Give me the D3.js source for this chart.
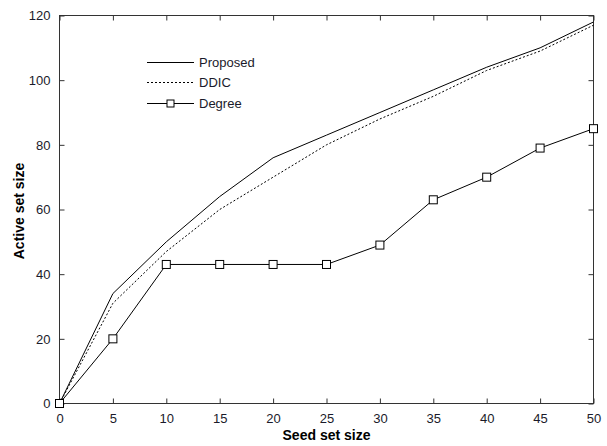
<!DOCTYPE html>
<html>
<head>
<meta charset="utf-8">
<script src="https://cdn.jsdelivr.net/npm/d3@7"></script>
<style>
  body { margin: 0; background: #fff; }
  text { font-family: "Liberation Sans", Arial, sans-serif; }
</style>
</head>
<body>
<svg id="canvas" width="607" height="446"></svg>
<script>
// chart values
let seedSizes = [0, 5, 10, 15, 20, 25, 30, 35, 40, 45, 50];
let proposed = [0, 34, 50, 64, 76, 83, 90, 97, 104, 110, 118];
let ddic = [0, 31, 47, 60, 70, 80, 88, 95, 103, 109, 117];
let degree = [0, 20, 43, 43, 43, 43, 49, 63, 70, 79, 85];
let xTicks = [0, 5, 10, 15, 20, 25, 30, 35, 40, 45, 50];
let yTicks = [0, 20, 40, 60, 80, 100, 120];
let legendNames = ["Proposed", "DDIC", "Degree"];

let svg = d3.select("#canvas");
let plotLeft = 59.5, plotRight = 593.5, plotTop = 15.5, plotBottom = 403.5;

let x = d3.scaleLinear().domain([0, 50]).range([plotLeft, plotRight]);
let y = d3.scaleLinear().domain([0, 120]).range([plotBottom, plotTop]);

let frameColor = "#333";
let textColor = "#1a1a2a";

// frame
svg.append("rect")
  .attr("x", plotLeft).attr("y", plotTop)
  .attr("width", plotRight - plotLeft).attr("height", plotBottom - plotTop)
  .attr("fill", "none").attr("stroke", frameColor).attr("stroke-width", 1);

// inward ticks on all four sides
let tickLen = 5;
let bottomAxis = d3.axisBottom(x).tickValues(xTicks).tickSize(-tickLen).tickPadding(10);
let topAxis = d3.axisTop(x).tickValues(xTicks).tickSize(-tickLen).tickFormat("");
let leftAxis = d3.axisLeft(y).tickValues(yTicks).tickSize(-tickLen).tickPadding(9);
let rightAxis = d3.axisRight(y).tickValues(yTicks).tickSize(-tickLen).tickFormat("");

function styleAxis(g) {
  g.select(".domain").remove();
  g.selectAll(".tick line").attr("stroke", frameColor);
  g.selectAll(".tick text")
    .attr("fill", textColor)
    .style("font-size", "13px")
    .style("font-family", "'Liberation Sans', Arial, sans-serif");
}

svg.append("g").attr("transform", "translate(0," + plotBottom + ")").call(bottomAxis).call(styleAxis);
svg.append("g").attr("transform", "translate(0," + plotTop + ")").call(topAxis).call(styleAxis);
svg.append("g").attr("transform", "translate(" + plotLeft + ",0)").call(leftAxis).call(styleAxis);
svg.append("g").attr("transform", "translate(" + plotRight + ",0)").call(rightAxis).call(styleAxis);

// axis titles
svg.append("text")
  .attr("x", (plotLeft + plotRight) / 2).attr("y", 440)
  .attr("text-anchor", "middle")
  .attr("fill", "#000")
  .style("font-size", "14px").style("font-weight", "bold")
  .text("Seed set size");

svg.append("text")
  .attr("transform", "translate(24," + 211 + ") rotate(-90)")
  .attr("text-anchor", "middle")
  .attr("fill", "#000")
  .style("font-size", "14px").style("font-weight", "bold")
  .text("Active set size");

// lines
let line = d3.line()
  .x((d, i) => x(seedSizes[i]))
  .y((d) => y(d));

svg.append("path").datum(proposed)
  .attr("d", line).attr("fill", "none").attr("stroke", "#000").attr("stroke-width", 1);

svg.append("path").datum(ddic)
  .attr("d", line).attr("fill", "none").attr("stroke", "#000").attr("stroke-width", 1)
  .attr("stroke-dasharray", "2,2");

svg.append("path").datum(degree)
  .attr("d", line).attr("fill", "none").attr("stroke", "#000").attr("stroke-width", 1);

let sq = 8;
svg.selectAll(".marker")
  .data(degree)
  .enter()
  .append("rect")
  .attr("class", "marker")
  .attr("x", (d, i) => x(seedSizes[i]) - sq / 2)
  .attr("y", (d) => y(d) - sq / 2)
  .attr("width", sq).attr("height", sq)
  .attr("fill", "#fff").attr("stroke", "#000").attr("stroke-width", 1);

// legend
let legX1 = 147, legX2 = 194, legY = [62.5, 82.5, 103.5];
legendNames.forEach((name, i) => {
  let l = svg.append("line")
    .attr("x1", legX1).attr("x2", legX2)
    .attr("y1", legY[i]).attr("y2", legY[i])
    .attr("stroke", "#000").attr("stroke-width", 1);
  if (i == 1) {
    l.attr("stroke-dasharray", "2,2");
  }
  if (i == 2) {
    svg.append("rect")
      .attr("x", (legX1 + legX2) / 2 - 3.5).attr("y", legY[i] - 3.5)
      .attr("width", 7).attr("height", 7)
      .attr("fill", "#fff").attr("stroke", "#000");
  }
  svg.append("text")
    .attr("x", 199).attr("y", legY[i] + 4.5)
    .attr("fill", textColor)
    .style("font-size", "13px")
    .text(name);
});
</script>
</body>
</html>
